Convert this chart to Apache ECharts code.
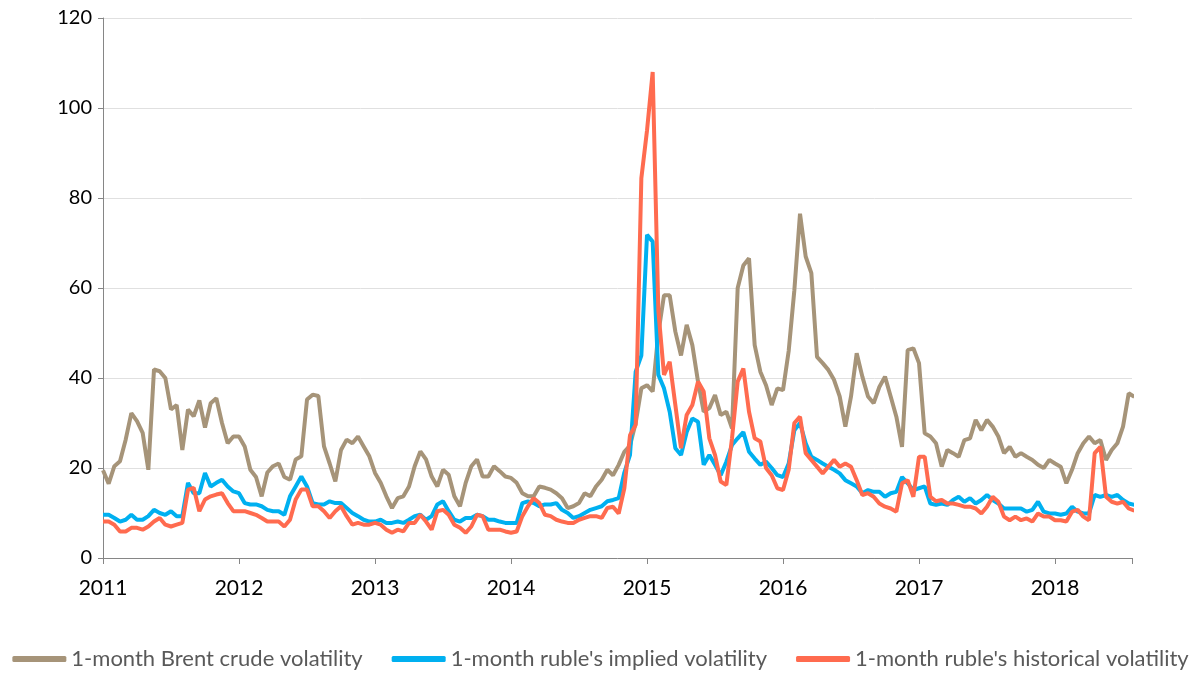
<!DOCTYPE html>
<html>
<head>
<meta charset="utf-8">
<script src="https://cdn.jsdelivr.net/npm/echarts@6/dist/echarts.min.js"></script>
<style>
  html, body { margin: 0; padding: 0; background: #fff; }
  #chart { width: 1201px; height: 676px; }
</style>
</head>
<body>
<div id="chart"></div>
<script>
// half-month samples starting Jan 2011
const startYear = 2011;
const stepsPerYear = 24;
const yearLabels = ['2011', '2012', '2013', '2014', '2015', '2016', '2017', '2018'];
const seriesNames = [
  '1-month Brent crude volatility',
  "1-month ruble's implied volatility",
  "1-month ruble's historical volatility"
];

const brentVol = [
  19.5, 16.5, 20.4, 21.5, 26.3, 32.2, 30.4, 27.8, 19.6, 41.9, 41.5, 40, 33, 34, 24, 33, 31.5, 35, 29, 34.4, 35.5, 30, 25.5, 27,
  27, 24.8, 19.6, 18, 13.7, 19, 20.4, 21, 18, 17.4, 21.9, 22.6, 35.2, 36.3, 36, 24.8, 21, 17, 24, 26.3, 25.5, 27, 24.8, 22.6,
  18.9, 16.7, 13.7, 11.1, 13.3, 13.7, 15.9, 20.4, 23.7, 21.9, 18.1, 15.9, 19.6, 18.5, 13.7, 11.5, 16.7, 20.4, 21.9, 18.1, 18.1, 20.4, 19.3, 18.1,
  17.8, 16.7, 14.4, 13.7, 13.7, 15.9, 15.6, 15.2, 14.4, 13.3, 11.1, 11.5, 12.2, 14.4, 13.7, 15.9, 17.4, 19.6, 18.4, 20.7, 23.6, 25, 30, 37.7,
  38.4, 37, 50, 58.4, 58.4, 50.3, 45, 51.8, 47.3, 39.2, 32.5, 33.3, 36.2, 31.8, 32.5, 28.8, 60, 65, 66.6, 47.3, 41.4, 38.4, 34, 37.7,
  37.3, 46, 59.5, 76.5, 67, 63.3, 44.7, 43.3, 41.8, 39.6, 35.9, 29.2, 35.9, 45.5, 40.3, 35.9, 34.4, 38, 40.3, 35.9, 31.4, 24.7, 46.2, 46.6,
  43.3, 27.7, 27, 25.5, 20.3, 24, 23.3, 22.5, 26.2, 26.6, 30.7, 28.4, 30.7, 29.2, 27, 23.3, 24.7, 22.5, 23.3, 22.5, 21.8, 20.7, 20, 21.8,
  21, 20.3, 16.6, 19.6, 23.3, 25.5, 27, 25.5, 26.2, 21.8, 24, 25.5, 29.2, 36.6, 35.8
];

const rubleImplied = [
  9.6, 9.6, 8.9, 8.1, 8.5, 9.6, 8.5, 8.5, 9.3, 10.7, 10, 9.6, 10.4, 9.3, 9.3, 16.7, 14.4, 14.4, 18.9, 15.9, 16.7, 17.4, 15.9, 14.8,
  14.4, 12.2, 11.9, 11.9, 11.5, 10.7, 10.4, 10.4, 9.6, 13.7, 15.9, 18.1, 15.9, 12.2, 11.9, 11.9, 12.6, 12.2, 12.2, 11.1, 10, 9.3, 8.5, 8.1,
  8.1, 8.5, 7.8, 7.8, 8.1, 7.8, 8.5, 9.3, 9.6, 8.5, 9.3, 11.9, 12.6, 10.4, 8.5, 8.1, 8.9, 8.9, 9.6, 9.3, 8.5, 8.5, 8.1, 7.8,
  7.8, 7.8, 12.2, 12.6, 12.2, 11.5, 11.9, 11.9, 12.2, 10.7, 10, 8.9, 9.3, 10, 10.7, 11.1, 11.5, 12.6, 12.9, 13.3, 19, 22.9, 41.4, 45,
  71.8, 70.3, 40.7, 37.7, 32.5, 24.4, 22.9, 28, 31, 30.3, 20.7, 22.9, 20.7, 18.4, 21.4, 25.1, 26.6, 28, 23.6, 22.1, 20.7, 21.4, 20, 18.4,
  18, 21, 28.4, 30, 25.5, 22.5, 21.8, 21, 20.3, 19.6, 18.8, 17.3, 16.6, 15.9, 14.4, 15.1, 14.7, 14.7, 13.6, 14.4, 14.7, 18, 16.6, 15.1,
  15.5, 15.9, 12.1, 11.8, 12.1, 11.8, 12.9, 13.6, 12.5, 13.3, 12.1, 12.9, 14, 12.9, 12.1, 11, 11, 11, 11, 10.3, 10.7, 12.5, 10.3, 9.9,
  9.9, 9.6, 9.9, 11.4, 10.3, 9.9, 9.9, 14, 13.6, 14, 13.6, 14, 12.9, 12.1, 11.8
];

const rubleHistorical = [
  8.1, 8.1, 7.4, 5.9, 5.9, 6.7, 6.7, 6.3, 7, 8.1, 8.9, 7.4, 7, 7.4, 7.8, 15.2, 15.6, 10.4, 13, 13.7, 14.1, 14.4, 12.2, 10.4,
  10.4, 10.4, 10, 9.6, 8.9, 8.1, 8.1, 8.1, 7, 8.5, 13, 15.2, 15.2, 11.5, 11.5, 10.4, 8.9, 10.4, 11.5, 9.3, 7.4, 7.8, 7.4, 7.4,
  7.8, 7.4, 6.3, 5.6, 6.3, 5.9, 7.8, 7.8, 9.6, 8.1, 6.3, 10.4, 10.7, 9.6, 7.4, 6.7, 5.6, 7, 9.6, 9.3, 6.3, 6.3, 6.3, 5.9,
  5.6, 5.9, 9.3, 11.5, 13.3, 12.2, 9.6, 9.3, 8.5, 8.1, 7.8, 7.8, 8.5, 8.9, 9.3, 9.3, 8.9, 11.1, 11.4, 9.9, 15.5, 27.3, 29.6, 84.4,
  95, 108, 55, 40.7, 43.6, 34, 24.4, 31.8, 34, 39.2, 37, 26.6, 22.9, 17, 16.2, 26.6, 39.2, 42.1, 32.5, 26.6, 25.9, 20, 18.4, 15.5,
  15.1, 19.6, 30, 31.4, 23.3, 21.8, 20.3, 18.8, 20.3, 21.8, 20.3, 21, 20.3, 17.3, 14, 14.4, 13.6, 12.1, 11.4, 11, 10.3, 16.6, 17.3, 13.6,
  22.5, 22.5, 13.6, 12.6, 12.9, 12.1, 12.1, 11.8, 11.4, 11.4, 11, 9.9, 11.4, 13.6, 12.5, 9.2, 8.4, 9.2, 8.4, 8.8, 8.1, 9.9, 9.2, 9.2,
  8.4, 8.4, 8.1, 10.3, 10.7, 9.2, 8.4, 23.3, 24.7, 13.6, 12.5, 12.1, 12.5, 11, 10.5
];

const colors = ['#A69479', '#00B0F0', '#FF6B4F'];

function toPoints(values) {
  return values.map((v, i) => [startYear + i / stepsPerYear, v]);
}

const chart = echarts.init(document.getElementById('chart'));

const option = {
  animation: false,
  textStyle: { fontFamily: 'Lato' },
  grid: { left: 103, right: 69, top: 18, bottom: 118 },
  legend: {
    bottom: 1,
    left: 'center',
    icon: 'roundRect',
    itemWidth: 54,
    itemHeight: 6,
    itemGap: 29,
    textStyle: { fontSize: 22, color: '#595959', fontFamily: 'Lato' },
    data: seriesNames
  },
  xAxis: {
    type: 'value',
    min: 2011,
    max: 2018.566,
    interval: 1,
    axisLine: { lineStyle: { color: '#868686', width: 1 } },
    axisTick: { show: true, length: 6, lineStyle: { color: '#868686' } },
    axisLabel: {
      fontSize: 21,
      color: '#000',
      margin: 20,
      formatter: v => yearLabels[Math.round(v) - startYear] || ''
    },
    splitLine: { show: false }
  },
  yAxis: {
    type: 'value',
    min: 0,
    max: 120,
    interval: 20,
    axisLine: { show: true, lineStyle: { color: '#868686', width: 1 } },
    axisTick: { show: true, length: 5, lineStyle: { color: '#868686' } },
    axisLabel: { fontSize: 20, color: '#000', margin: 11 },
    splitLine: { lineStyle: { color: '#E0E0E0', width: 1 } }
  },
  series: [
    {
      name: seriesNames[0],
      type: 'line',
      data: toPoints(brentVol),
      showSymbol: false,
      lineStyle: { color: colors[0], width: 4 },
      itemStyle: { color: colors[0] }
    },
    {
      name: seriesNames[1],
      type: 'line',
      data: toPoints(rubleImplied),
      showSymbol: false,
      lineStyle: { color: colors[1], width: 4 },
      itemStyle: { color: colors[1] }
    },
    {
      name: seriesNames[2],
      type: 'line',
      data: toPoints(rubleHistorical),
      showSymbol: false,
      lineStyle: { color: colors[2], width: 4 },
      itemStyle: { color: colors[2] }
    }
  ]
};

chart.setOption(option);
</script>
</body>
</html>
